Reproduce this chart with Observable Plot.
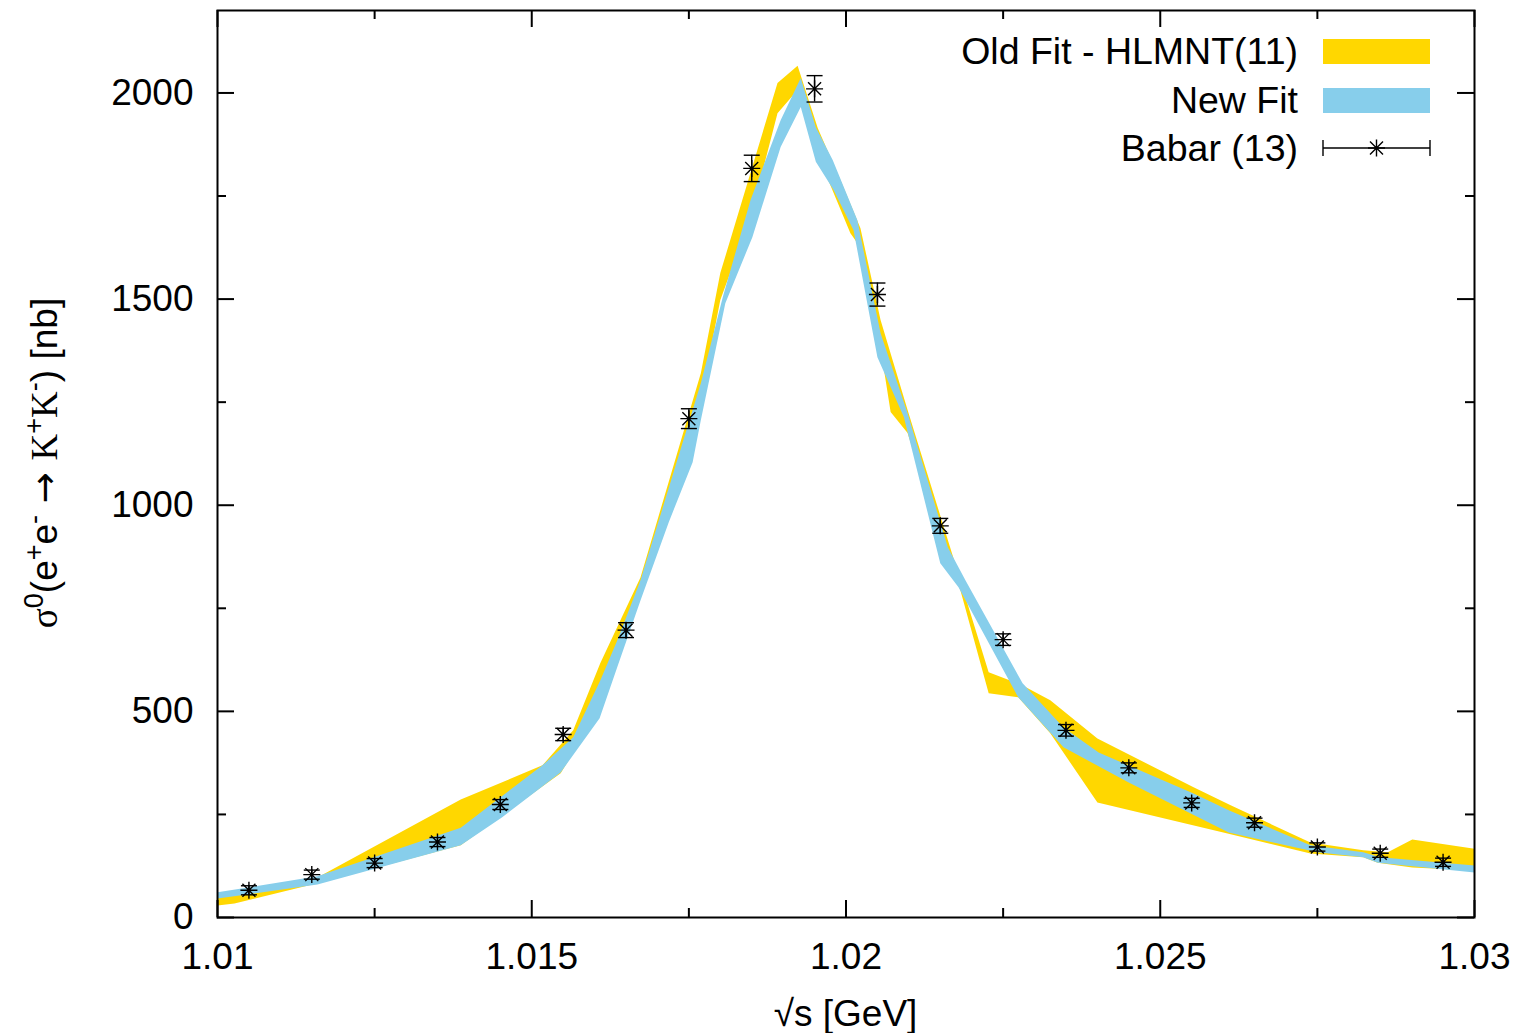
<!DOCTYPE html>
<html>
<head>
<meta charset="utf-8">
<script src="https://cdn.jsdelivr.net/npm/d3@7"></script>
<script src="https://cdn.jsdelivr.net/npm/@observablehq/plot@0.6"></script>
<style>
  html, body { margin: 0; padding: 0; background: #fff; }
  #chart { width: 1522px; height: 1033px; }
</style>
</head>
<body>
<div id="chart"></div>
<script>
// ---- Axis ticks ----
const xMajor = [1.01, 1.015, 1.02, 1.025, 1.03];
const xMinor = [1.0125, 1.0175, 1.0225, 1.0275];
const yMajor = [0, 500, 1000, 1500, 2000];
const yMinor = [250, 750, 1250, 1750];

// ---- Babar (13) data points ----
const babarX = [1.0105, 1.0115, 1.0125, 1.0135, 1.0145, 1.0155, 1.0165, 1.0175, 1.0185, 1.0195,
                1.0205, 1.0215, 1.0225, 1.0235, 1.0245, 1.0255, 1.0265, 1.0275, 1.0285, 1.0295];
const babarY = [66, 104, 132, 183, 274, 444, 697, 1210, 1817, 2010,
                1511, 950, 674, 454, 363, 278, 230, 171, 156, 134];
const babarErr = [11, 11, 11, 11, 12, 15, 18, 24, 32, 32,
                  28, 18, 14, 14, 12, 11, 11, 10, 10, 10];

// ---- Old Fit - HLMNT(11) band: upper and lower edges ----
const oldUpperX = [1.0100, 1.01159, 1.01387, 1.01517, 1.01566, 1.01609, 1.01673, 1.01769, 1.01800, 1.01891,
                   1.01923, 1.01955, 1.01991, 1.02023, 1.02055, 1.02098, 1.02166, 1.02227, 1.02281, 1.02325,
                   1.02400, 1.02553, 1.02612, 1.02739, 1.02823, 1.02862, 1.02901, 1.0300];
const oldUpperY = [49, 97, 286, 369, 454, 617, 825, 1320, 1563, 2024,
                   2066, 1915, 1789, 1672, 1449, 1231, 896, 595, 563, 527,
                   434, 316, 272, 182, 163, 158, 189, 167];
const oldLowerX = [1.0100, 1.01027, 1.01159, 1.01387, 1.01546, 1.01573, 1.01598, 1.01609, 1.01673, 1.01769,
                   1.01800, 1.01848, 1.01891, 1.01923, 1.01955, 1.02007, 1.02018, 1.02036, 1.02058, 1.02071,
                   1.02098, 1.02146, 1.02182, 1.02227, 1.02274, 1.02325, 1.02400, 1.02607, 1.02739, 1.02823,
                   1.02846, 1.02901, 1.0300];
const oldLowerY = [29, 34, 83, 175, 350, 417, 520, 529, 794, 1255,
                   1498, 1697, 1951, 2007, 1850, 1660, 1636, 1498, 1352, 1226,
                   1175, 947, 794, 544, 534, 447, 279, 204, 155, 146,
                   133, 121, 114];

// ---- New Fit band: upper and lower edges ----
const newUpperX = [1.0100, 1.01159, 1.01387, 1.01517, 1.01566, 1.01609, 1.01636, 1.01673, 1.01769, 1.01804,
                   1.01848, 1.01896, 1.01928, 1.01952, 1.01979, 1.02018, 1.02055, 1.02098, 1.02162, 1.02190,
                   1.02281, 1.02346, 1.02402, 1.02553, 1.02609, 1.02739, 1.02823, 1.02850, 1.0300];
const newUpperY = [61, 100, 218, 369, 437, 575, 672, 818, 1296, 1505,
                   1740, 1934, 2036, 1917, 1837, 1692, 1417, 1223, 898, 818,
                   568, 461, 400, 301, 260, 175, 158, 146, 126];
const newLowerX = [1.0100, 1.01159, 1.01387, 1.01453, 1.01546, 1.01608, 1.01636, 1.01673, 1.01718, 1.01756,
                   1.01769, 1.01808, 1.01851, 1.01896, 1.01928, 1.01952, 1.01980, 1.02012, 1.02050, 1.02092,
                   1.02150, 1.02179, 1.02274, 1.02346, 1.02449, 1.02609, 1.02750, 1.02823, 1.02846, 1.0300];
const newLowerY = [46, 80, 175, 243, 352, 483, 607, 769, 959, 1104,
                   1206, 1490, 1650, 1869, 1966, 1833, 1765, 1667, 1359, 1214,
                   859, 801, 534, 413, 328, 206, 158, 146, 133, 109];

// ---- Legend labels ----
const legendLabels = ["Old Fit - HLMNT(11)", "New Fit", "Babar (13)"];
const oldColor = "#FFD700";
const newColor = "#87CEEB";

// Build closed band polygons: upper edge forward, lower edge backward
function bandPolygon(ux, uy, lx, ly) {
  const pts = ux.map((x, i) => ({x, y: uy[i]}));
  for (let i = lx.length - 1; i >= 0; i--) pts.push({x: lx[i], y: ly[i]});
  return pts;
}
const oldBand = bandPolygon(oldUpperX, oldUpperY, oldLowerX, oldLowerY);
const newBand = bandPolygon(newUpperX, newUpperY, newLowerX, newLowerY);
const babar = babarX.map((x, i) => ({x, y: babarY[i], lo: babarY[i] - babarErr[i], hi: babarY[i] + babarErr[i]}));

// gnuplot-like asterisk and error-bar cap symbols
const starSymbol = {
  draw(ctx) {
    const h = 8.5, d = 6.5;
    ctx.moveTo(-h, 0); ctx.lineTo(h, 0);
    ctx.moveTo(0, -h); ctx.lineTo(0, h);
    ctx.moveTo(-d, -d); ctx.lineTo(d, d);
    ctx.moveTo(-d, d); ctx.lineTo(d, -d);
  }
};
const capSymbol = {
  draw(ctx) { ctx.moveTo(-8, 0); ctx.lineTo(8, 0); }
};

const W = 1522, H = 1033;
const mL = 217, mR = 48, mT = 10, mB = 116;
const innerW = W - mL - mR, innerH = H - mT - mB;
const majorLen = 17, minorLen = 9;

const svg = Plot.plot({
  width: W,
  height: H,
  marginLeft: mL,
  marginRight: mR,
  marginTop: mT,
  marginBottom: mB,
  style: {fontFamily: "'Liberation Sans', Arial, Helvetica, sans-serif", fontSize: "37px", background: "#fff", color: "#000"},
  x: {domain: [1.01, 1.03]},
  y: {domain: [0, 2200]},
  marks: [
    Plot.line(oldBand, {x: "x", y: "y", fill: oldColor, stroke: "none"}),
    Plot.line(newBand, {x: "x", y: "y", fill: newColor, stroke: "none"}),
    Plot.ruleX(babar, {x: "x", y1: "lo", y2: "hi", stroke: "#000", strokeWidth: 1.4}),
    Plot.dot(babar, {x: "x", y: "lo", symbol: capSymbol, fill: "none", stroke: "#000", strokeWidth: 1.4}),
    Plot.dot(babar, {x: "x", y: "hi", symbol: capSymbol, fill: "none", stroke: "#000", strokeWidth: 1.4}),
    Plot.dot(babar, {x: "x", y: "y", symbol: starSymbol, fill: "none", stroke: "#000", strokeWidth: 1.4}),
    // inward ticks on all four sides
    Plot.tickY(yMajor, {y: d => d, insetRight: innerW - majorLen, stroke: "#000", strokeWidth: 2}),
    Plot.tickY(yMajor, {y: d => d, insetLeft: innerW - majorLen, stroke: "#000", strokeWidth: 2}),
    Plot.tickY(yMinor, {y: d => d, insetRight: innerW - minorLen, stroke: "#000", strokeWidth: 2}),
    Plot.tickY(yMinor, {y: d => d, insetLeft: innerW - minorLen, stroke: "#000", strokeWidth: 2}),
    Plot.tickX(xMajor, {x: d => d, insetTop: innerH - majorLen, stroke: "#000", strokeWidth: 2}),
    Plot.tickX(xMajor, {x: d => d, insetBottom: innerH - majorLen, stroke: "#000", strokeWidth: 2}),
    Plot.tickX(xMinor, {x: d => d, insetTop: innerH - minorLen, stroke: "#000", strokeWidth: 2}),
    Plot.tickX(xMinor, {x: d => d, insetBottom: innerH - minorLen, stroke: "#000", strokeWidth: 2}),
    Plot.frame({stroke: "#000", strokeWidth: 2}),
    Plot.axisX({ticks: xMajor, tickSize: 0, tickPadding: 25, tickFormat: d => String(d), label: null}),
    Plot.axisY({ticks: yMajor, tickSize: 0, tickPadding: 24, tickFormat: d => String(d), label: null})
  ]
});
document.getElementById("chart").appendChild(svg);

const s = d3.select(svg);

// x label
s.append("text")
  .attr("x", mL + innerW / 2).attr("y", 1026)
  .attr("text-anchor", "middle")
  .attr("font-size", 37)
  .attr("fill", "#000")
  .text("√s [GeV]");

// y label with superscripts
const yl = s.append("text")
  .attr("transform", "translate(57,463) rotate(-90)")
  .attr("text-anchor", "middle")
  .attr("font-size", 37)
  .attr("fill", "#000");
const serif = "'Liberation Serif', 'DejaVu Serif', serif";
const parts = [
  {t: "σ", f: serif},
  {t: "0", sup: true},
  {t: "(e"},
  {t: "+", sup: true},
  {t: "e"},
  {t: "-", sup: true},
  {t: " → ", f: "'DejaVu Sans', sans-serif"},
  {t: "K", f: serif},
  {t: "+", sup: true},
  {t: "K", f: serif},
  {t: "-", sup: true},
  {t: ") [nb]"}
];
let raised = false;
for (const p of parts) {
  const ts = yl.append("tspan").text(p.t);
  if (p.f) ts.attr("font-family", p.f);
  if (p.sup && !raised) { ts.attr("dy", -14).attr("font-size", 27); raised = true; }
  else if (p.sup) { ts.attr("font-size", 27); }
  else if (!p.sup && raised) { ts.attr("dy", 14); raised = false; }
}

// legend
const legX = 1298, swX = 1323, swW = 107;
const rows = [64, 113, 161];
legendLabels.forEach((lab, i) => {
  s.append("text")
    .attr("x", legX).attr("y", rows[i])
    .attr("text-anchor", "end")
    .attr("font-size", 37.5)
    .attr("fill", "#000")
    .text(lab);
});
s.append("rect").attr("x", swX).attr("y", 39).attr("width", swW).attr("height", 25).attr("fill", oldColor);
s.append("rect").attr("x", swX).attr("y", 88).attr("width", swW).attr("height", 25).attr("fill", newColor);
const ly = 148;
s.append("line").attr("x1", swX).attr("x2", swX + swW).attr("y1", ly).attr("y2", ly).attr("stroke", "#000").attr("stroke-width", 1.4);
s.append("line").attr("x1", swX).attr("x2", swX).attr("y1", ly - 8).attr("y2", ly + 8).attr("stroke", "#000").attr("stroke-width", 1.4);
s.append("line").attr("x1", swX + swW).attr("x2", swX + swW).attr("y1", ly - 8).attr("y2", ly + 8).attr("stroke", "#000").attr("stroke-width", 1.4);
s.append("path")
  .attr("d", d3.symbol(starSymbol)())
  .attr("transform", `translate(${swX + swW / 2},${ly})`)
  .attr("fill", "none").attr("stroke", "#000").attr("stroke-width", 1.4);
</script>
</body>
</html>
